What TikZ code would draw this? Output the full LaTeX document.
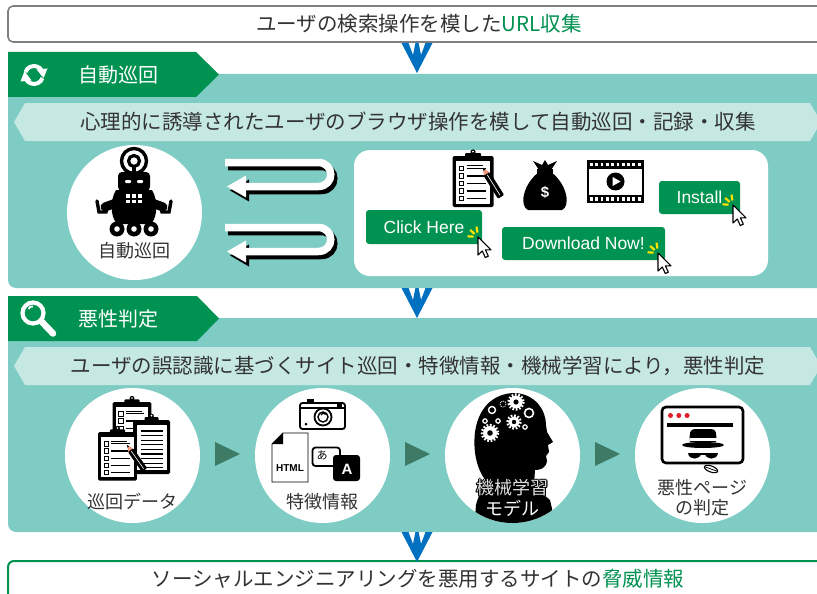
\documentclass[tikz,border=0pt]{standalone}
\usepackage{fontspec}
\setmainfont{Noto Sans CJK JP}
\newfontfamily\latinfont{Liberation Sans}
\usetikzlibrary{calc}

\definecolor{panel}{RGB}{126,204,196}
\definecolor{ribbon}{RGB}{198,232,227}
\definecolor{tabgreen}{RGB}{0,146,80}
\definecolor{flowblue}{RGB}{0,112,192}
\definecolor{stepgreen}{RGB}{62,123,103}
\definecolor{ink}{RGB}{51,51,51}
\definecolor{framegray}{RGB}{128,128,128}
\definecolor{spark}{RGB}{255,228,0}
\definecolor{dotred}{RGB}{225,30,40}
\definecolor{pencilpink}{RGB}{240,150,120}

\newcommand\cogwheel[3]{%
  \fill[white] (#1,#2) circle (#3);
  \draw[white, line width=2.4, dash pattern=on 1.7pt off 1.7pt] (#1,#2) circle ({#3+1});
  \fill[black] (#1,#2) circle ({#3*0.4});
}

\tikzset{
  panelbg/.style={fill=panel, rounded corners=8pt},
  ribbonbg/.style={fill=ribbon},
  tabbg/.style={fill=tabgreen},
  heading/.style={font=\fontsize{20.5}{22}\selectfont, text=ink, inner sep=0pt},
  tabtitle/.style={font=\fontsize{20}{22}\selectfont, text=white, anchor=west, inner sep=0pt},
  disc/.style={circle, fill=white, minimum size=135pt, inner sep=0pt},
  disclabel/.style={font=\fontsize{18}{20}\selectfont, text=ink, inner sep=0pt},
  btn/.style={fill=tabgreen, rounded corners=3pt, text=white, inner sep=0pt,
    font=\latinfont\fontsize{17.5}{20}\selectfont},
  flowdown/.pic={
    \fill[flowblue] (-15.5,0) -- (-8.5,0) -- (-4,12) -- (-1.6,0) -- (1.6,0)
      -- (4,12) -- (8.5,0) -- (15.5,0) -- (0,30) -- cycle;
  },
  stepmark/.pic={
    \fill[stepgreen] (-12.5,-12) -- (12.5,0) -- (-12.5,12) -- cycle;
  },
  clickcursor/.pic={
    \foreach \a in {262,222,184}{\draw[spark, line width=2.2] (\a:4.5) -- (\a:10.5);}
    \draw[black, fill=white, line width=1.1, line join=round]
      (0,0) -- (0,18) -- (4.3,14) -- (7.3,20.5) -- (10.3,19.2) -- (7.4,12.8) -- (13,12.8) -- cycle;
  },
  uturn/.pic={
    \begin{scope}[shift={(3,4)}]
      \draw[black, line width=7.5] (0,0) -- (93,0) .. controls (110,0) and (110,24) .. (93,24) -- (18,24);
      \fill[black] (2,24) -- (21,13) -- (21,35) -- cycle;
    \end{scope}
    \draw[white, line width=7.5] (0,0) -- (93,0) .. controls (110,0) and (110,24) .. (93,24) -- (18,24);
    \fill[white] (2,24) -- (21,13) -- (21,35) -- cycle;
  },
  checklist/.pic={
    \fill[black, rounded corners=1.5pt] (-20.5,-24) rectangle (20.5,27);
    \fill[white] (-17,-19) rectangle (17,23.5);
    \fill[black, rounded corners=1pt] (-8,-27) rectangle (8,-20);
    \fill[black] (0,-28) circle (2.6);
    \fill[white] (0,-28.4) circle (1);
    \foreach \i in {0,...,4}{
      \draw[line width=0.9] (-14,{-14+7.6*\i}) rectangle ++(4.5,4.5);
      \draw[line width=1.3] (-6.5,{-11.75+7.6*\i}) -- (13,{-11.75+7.6*\i});
    }
    \draw[line width=1.1] (-6.5,-14.5) -- (10,-14.5);
  },
  notelist/.pic={
    \fill[black, rounded corners=1.5pt] (-18.5,-25) rectangle (18.5,29);
    \fill[white] (-15,-20) rectangle (15,25);
    \fill[black, rounded corners=1pt] (-7,-28) rectangle (7,-21);
    \fill[black] (0,-29) circle (2.4);
    \fill[white] (0,-29.4) circle (0.9);
    \foreach \i in {0,...,8}{\draw[line width=1.1] (-11,{-14+4.6*\i}) -- (11,{-14+4.6*\i});}
  },
  pencil/.pic={
    \fill[pencilpink] (0,0) -- (7,-3.2) -- (7,3.2) -- cycle;
    \fill[black] (0,0) -- (2.6,-1.2) -- (2.6,1.2) -- cycle;
    \fill[black, rounded corners=1pt] (7,-3.6) rectangle (34,3.6);
    \draw[white, line width=0.6] (8,0) -- (32,0);
  }
}

\begin{document}
\begin{tikzpicture}[x=1pt,y=-1pt]
\useasboundingbox (0,0) rectangle (817,594);
\clip (0,0) rectangle (817,594);

% ---------- source box ----------
\draw[draw=framegray, line width=1.6, fill=white, rounded corners=5] (8,6) rectangle (840,42);
\node[heading] (urltext) at (419,24) {ユーザの検索操作を模した\textcolor{tabgreen}{URL収集}};

% ---------- stage panels ----------
\fill[panelbg] (8,74) rectangle (840,288);
\fill[panelbg] (8,318) rectangle (840,532);

% ---------- result box ----------
\draw[draw=tabgreen, line width=2, fill=white, rounded corners=6] (8,561) rectangle (840,620);
\node[heading] (threattext) at (418,579) {ソーシャルエンジニアリングを悪用するサイトの\textcolor{tabgreen}{脅威情報}};

% ---------- flow arrows ----------
\coordinate (flowA) at (417,43);
\coordinate (flowB) at (417,288);
\coordinate (flowC) at (417,532);
\pic at (flowA) {flowdown};
\pic at (flowB) {flowdown};
\pic at (flowC) {flowdown};

% ---------- stage tabs ----------
\fill[tabbg] (8,52) -- (196,52) -- (219,74.5) -- (196,97) -- (8,97) -- cycle;
\fill[tabbg] (8,296) -- (197,296) -- (219,318.5) -- (197,341) -- (8,341) -- cycle;
\node[tabtitle] (tabcrawl) at (78,74.5) {自動巡回};
\node[tabtitle] (tabjudge) at (78,318.5) {悪性判定};

% sync icon
\draw[white, line width=4] (25.54,71.92) arc[start angle=200, end angle=330, radius=9];
\fill[white] (36.5,69.5) -- (47.5,68.5) -- (43.5,78) -- cycle;
\draw[white, line width=4] (42.46,78.08) arc[start angle=20, end angle=150, radius=9];
\fill[white] (20.5,81.5) -- (31.5,80.5) -- (24.5,71) -- cycle;

% magnifier icon
\draw[white, line width=4.2] (33,313) circle (10.5);
\draw[white, line width=1.8] (28.5,309) arc[start angle=200, end angle=280, radius=4];
\draw[white, line width=6.5, line cap=round] (42,322) -- (53,333.5);

% ---------- ribbons ----------
\fill[ribbonbg] (14,122) -- (25,103) -- (810,103) -- (821,122) -- (810,141) -- (25,141) -- cycle;
\fill[ribbonbg] (14,366) -- (25,347) -- (810,347) -- (821,366) -- (810,385) -- (25,385) -- cycle;
\node[heading] (crawltext) at (418,122) {心理的に誘導されたユーザのブラウザ操作を模して自動巡回・記録・収集};
\node[heading] (judgetext) at (418,366) {ユーザの誤認識に基づくサイト巡回・特徴情報・機械学習により，悪性判定};

% ---------- crawler robot ----------
\node[disc] (robot) at (134.5,212.5) {};
\draw[line width=3.4] (134,161) circle (12.5);
\draw[line width=3.2] (134,161) circle (5.5);
\draw[line width=3.4] (134,165) -- (134,174);
\fill[rounded corners=4] (118,172) rectangle (150,191);
\fill[white, rounded corners=1] (125,180) rectangle (131,183);
\fill[white, rounded corners=1] (137,180) rectangle (143,183);
\fill (116,190) .. controls (110,200) and (110,216) .. (117,224) -- (151,224)
  .. controls (158,216) and (158,200) .. (152,190) -- cycle;
\foreach \c in {0,1,2}{\foreach \r in {0,1}{\fill[white] ({126+6.2*\c},{194+5.5*\r}) rectangle ++(4,3.6);}}
\draw[line width=9, line cap=round] (116,203) -- (105,207);
\draw[line width=9, line cap=round] (152,203) -- (163,207);
\draw[line width=3.4, line cap=round] (97,201) -- (99,212) -- (106,212) -- (108,203);
\draw[line width=3.4, line cap=round] (171,201) -- (169,212) -- (162,212) -- (160,203);
\fill (117,229) circle (7.5);
\fill (134,229) circle (7.5);
\fill (151,229) circle (7.5);
\fill[white] (117,229) circle (2.8);
\fill[white] (134,229) circle (2.8);
\fill[white] (151,229) circle (2.8);
\node[disclabel] (robotlabel) at (134.5,251) {自動巡回};

% ---------- U-turn arrows ----------
\pic at (225,162.5) {uturn};
\pic at (225,227.5) {uturn};

% ---------- lure page ----------
\fill[white, rounded corners=16] (354,150) rectangle (768,276);

\pic at (473,180) {checklist};
\pic[rotate=-58] at (483,168) {pencil};

% money bag
\begin{scope}[shift={(545,186)}]
  \fill[black] (-6,-14) .. controls (-22,-2) and (-26,20) .. (-17,24) -- (17,24)
    .. controls (26,20) and (22,-2) .. (6,-14) -- cycle;
  \fill[black] (-8,-17) rectangle (8,-12);
  \fill[black] (-6,-16) -- (-12,-25) -- (-3,-21) -- (0,-26) -- (3,-21) -- (12,-25) -- (6,-16) -- cycle;
  \node[text=white, font=\latinfont\bfseries\fontsize{15}{16}\selectfont, inner sep=0pt] (dollar) at (0,6) {\$};
\end{scope}

% film frame
\begin{scope}[shift={(615.5,181.5)}]
  \fill[black] (-28.5,-21.5) rectangle (28.5,21.5);
  \fill[white] (-26.5,-13) rectangle (26.5,13);
  \foreach \k in {0,...,9}{
    \fill[white] ({-25.5+5.3*\k},-19) rectangle ++(2.8,3.6);
    \fill[white] ({-25.5+5.3*\k},15.4) rectangle ++(2.8,3.6);
  }
  \fill[black] (0,0) circle (9);
  \fill[white] (-3,-4.6) -- (5,0) -- (-3,4.6) -- cycle;
\end{scope}

% buttons
\node[btn, minimum width=116pt, minimum height=34pt] (clickbtn) at (424,227) {Click Here};
\node[btn, minimum width=163pt, minimum height=33pt] (downloadbtn) at (583.5,243.5) {Download Now!};
\node[btn, minimum width=81pt, minimum height=33pt] (installbtn) at (699.5,197.5) {Install};
\pic at (478,237) {clickcursor};
\pic at (658,253) {clickcursor};
\pic at (733,205) {clickcursor};

% ---------- judgement pipeline ----------
\node[disc] (dcrawl) at (132.5,455.5) {};
\node[disc] (dfeature) at (322.5,455.5) {};
\node[disc] (dmodel) at (512.5,455.5) {};
\node[disc] (dverdict) at (702.5,455.5) {};
\pic at ($(dcrawl)!0.5!(dfeature)+(0,-1.5)$) {stepmark};
\pic at ($(dfeature)!0.5!(dmodel)+(0,-1.5)$) {stepmark};
\pic at ($(dmodel)!0.5!(dverdict)+(0,-1.5)$) {stepmark};

% crawl data
\pic[scale=0.95] at (132,425) {checklist};
\pic at (151.5,445) {notelist};
\pic[scale=0.95] at (117.5,455) {checklist};
\pic[rotate=-55, scale=0.9] at (127,445) {pencil};
\node[disclabel] (crawllabel) at (132.5,502) {巡回データ};

% feature information
\draw[line width=1.8, rounded corners=2.5] (300,403) rectangle (345,429);
\fill (307,399) rectangle (314,403);
\draw[line width=1.2] (300,408) -- (345,408);
\fill (337,404) rectangle (342,406.5);
\draw[line width=1.8] (323,417) circle (8.5);
\draw[line width=1.4] (323,417) circle (5);
\draw[line width=1.2] (321,415) arc[start angle=200, end angle=330, radius=2.5];
\fill (306,424) circle (1.5);
\draw[line width=0.8, fill=white] (283,433) -- (308,433) -- (308,482) -- (272,482) -- (272,444) -- cycle;
\fill (272,444) -- (283,433) -- (283,444) -- cycle;
\node[font=\latinfont\bfseries\fontsize{10}{11}\selectfont, inner sep=0pt] (htmltag) at (290,468) {HTML};
\draw[line width=1.8, rounded corners=3, fill=white] (312.5,447.5) rectangle (340,466);
\node[font=\fontsize{11}{12}\selectfont, inner sep=0pt] (kana) at (322,455) {あ};
\fill[rounded corners=3] (333,455) rectangle (360,481);
\node[text=white, font=\latinfont\bfseries\fontsize{15}{16}\selectfont, inner sep=0pt] (latinA) at (347,469) {A};
\node[disclabel] (featurelabel) at (322.5,502) {特徴情報};

% learning model
\begin{scope}
  \clip (dmodel) circle (67.5);
  \fill (474,530) -- (476,505) .. controls (478,495) and (484,489) .. (486,481)
    .. controls (476,468) and (473,450) .. (475,432)
    .. controls (479,404) and (497,393) .. (515,393)
    .. controls (535,394) and (546,410) .. (546,425)
    -- (547,432) -- (553,442) -- (548,445) -- (549,452) -- (546,456) -- (547,461)
    .. controls (546,468) and (541,470) .. (535,470)
    -- (534,484) .. controls (538,492) and (546,496) .. (550,500) -- (557,530) -- cycle;
\end{scope}
\cogwheel{490}{433}{7}
\cogwheel{514}{422}{5.5}
\cogwheel{516}{402}{6.5}
\draw[white, line width=1.6] (529,413) circle (4.5);
\draw[white, line width=1.4] (492,410) circle (3.5);
\draw[white, line width=0.8, dash pattern=on 1pt off 1pt] (503,404) circle (3);
\draw[white, line width=1.2] (485,421) circle (2.2);
\draw[white, line width=1.2] (498,421) circle (2.2);
\draw[white, line width=1.2] (525,427) circle (2.2);
% outlined lettering: dark copies around, light copy on top
\foreach \dx/\dy [count=\n] in {-1/0,1/0,0/-1,0/1,-0.8/-0.8,0.8/0.8,-0.8/0.8,0.8/-0.8}{
  \node[disclabel, text=black] (mlshadeA\n) at ({512.5+\dx},{488+\dy}) {機械学習};
  \node[disclabel, text=black] (mlshadeB\n) at ({512.5+\dx},{508+\dy}) {モデル};
}
\node[disclabel, text=white!88!black] (mllabelA) at (512.5,488) {機械学習};
\node[disclabel, text=white] (mllabelB) at (512.5,508) {モデル};

% malicious page verdict
\draw[line width=2.6, rounded corners=4, fill=white] (662,407) rectangle (743,463);
\foreach \k in {0,1,2}{\fill[dotred] ({670.5+8.3*\k},415.5) circle (2.5);}
\fill (667,422.5) rectangle (733,427);
\fill (690,442) .. controls (689,433) and (690,429) .. (695,429) -- (711,429)
  .. controls (716,429) and (717,433) .. (716,442) -- cycle;
\fill[white] (689.5,437.5) rectangle (716.5,441);
\fill (703,445) ellipse (21 and 3);
\fill (688,453) -- (701,453) .. controls (701,460) and (689,461) .. (688,453) -- cycle;
\fill (705,453) -- (718,453) .. controls (717,461) and (705,460) .. (705,453) -- cycle;
\draw[line width=1.2] (700,454) -- (706,454);
\draw[line width=1.1, rotate around={-20:(711,469)}] (711,469) ellipse (7 and 3);
\draw[line width=0.8, rotate around={-20:(711,469)}] (705,469) -- (717,469);
\node[disclabel] (verdictA) at (702.5,488) {悪性ページ};
\node[disclabel] (verdictB) at (702.5,508) {の判定};

\end{tikzpicture}
\end{document}
